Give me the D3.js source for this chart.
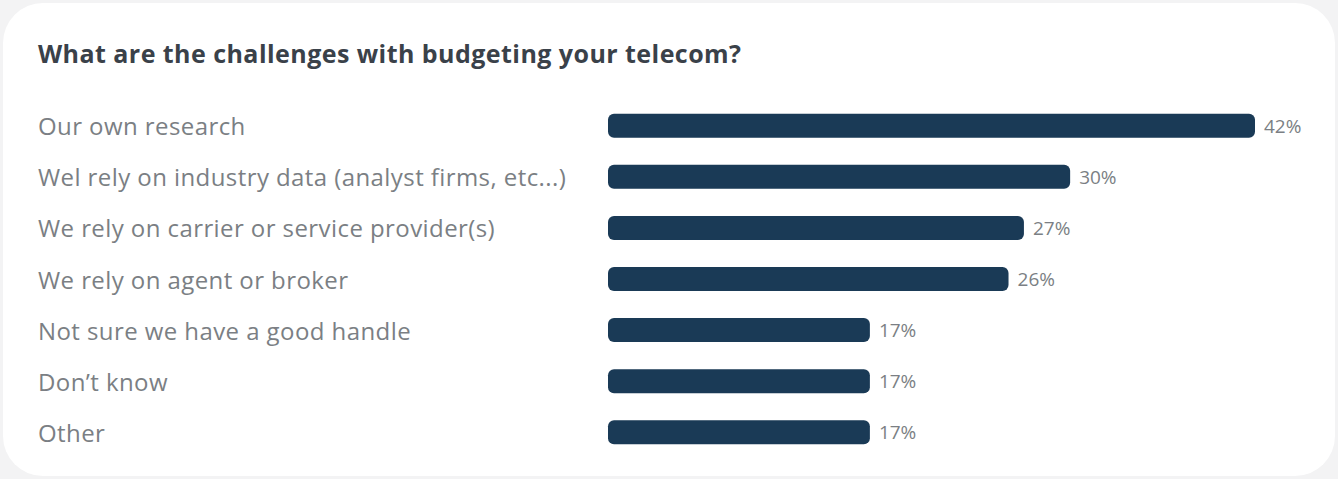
<!DOCTYPE html>
<html>
<head>
<meta charset="utf-8">
<script src="https://cdn.jsdelivr.net/npm/d3@7/dist/d3.min.js"></script>
<style>
  html, body { margin: 0; padding: 0; background: #f3f3f4; }
  svg { display: block; }
</style>
</head>
<body>
<svg id="chart" width="1338" height="479"></svg>
<script>
// Survey answers and their share of respondents (%)
const categories = [
  "Our own research",
  "Wel rely on industry data (analyst firms, etc...)",
  "We rely on carrier or service provider(s)",
  "We rely on agent or broker",
  "Not sure we have a good handle",
  "Don\u2019t know",
  "Other"
];
const values = [42, 30, 27, 26, 17, 17, 17];
const title = "What are the challenges with budgeting your telecom?";

const FONT = "'Open Sans', Lato, sans-serif";
const svg = d3.select("#chart");
const W = 1338, H = 479;

// white card
svg.append("rect")
  .attr("x", 3).attr("y", 3)
  .attr("width", W - 6).attr("height", H - 6)
  .attr("rx", 40).attr("ry", 40)
  .attr("fill", "#ffffff");

svg.append("text")
  .attr("x", 38).attr("y", 63)
  .attr("font-family", FONT)
  .attr("font-weight", 700)
  .attr("font-size", 25)
  .attr("letter-spacing", 0.45)
  .attr("fill", "#3a4149")
  .text(title);

const x = d3.scaleLinear().domain([0, 42]).range([608, 1255]);
const y = d3.scaleBand()
  .domain(categories)
  .range([101, 457])
  .paddingInner(0.53)
  .paddingOuter(0.25);

const rows = svg.append("g").selectAll("g")
  .data(categories.map((c, i) => ({ c, v: values[i] })))
  .join("g");

rows.append("text")
  .attr("x", 38)
  .attr("y", d => y(d.c) + y.bandwidth() / 2 + 9.5)
  .attr("font-family", FONT)
  .attr("font-size", 24)
  .attr("letter-spacing", 0.42)
  .attr("fill", "#7b7f84")
  .text(d => d.c);

rows.append("rect")
  .attr("x", x(0))
  .attr("y", d => y(d.c))
  .attr("width", d => x(d.v) - x(0))
  .attr("height", y.bandwidth())
  .attr("rx", 6).attr("ry", 6)
  .attr("fill", "#1a3a56");

rows.append("text")
  .attr("x", d => x(d.v) + 9)
  .attr("y", d => y(d.c) + y.bandwidth() / 2 + 7)
  .attr("font-family", FONT)
  .attr("font-size", 19)
  .attr("fill", "#7b7f84")
  .text(d => d.v + "%");
</script>
</body>
</html>
